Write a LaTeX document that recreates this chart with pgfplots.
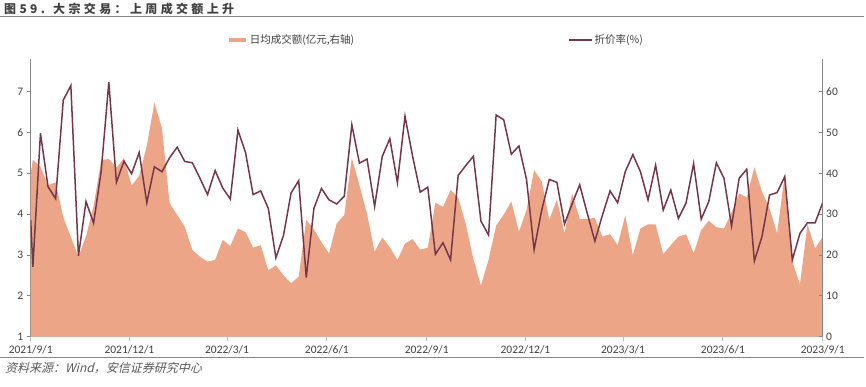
\documentclass[border=0pt]{standalone}
\usepackage{pgfplots}
\pgfplotsset{compat=1.18}
\usepackage{pgfplotstable}
\usepackage{fontspec}
\setmainfont{Carlito}
\newfontfamily\cjk{Noto Sans CJK SC}
\newfontfamily\cjktitle{Noto Sans CJK SC}[LetterSpace=28]
\newfontfamily\cjkit{Noto Sans CJK SC}[FakeSlant=0.25]
\definecolor{areac}{RGB}{236,166,135}
\definecolor{linec}{RGB}{117,54,74}
\definecolor{axgray}{RGB}{134,134,134}
\definecolor{xgray}{RGB}{191,191,191}
\definecolor{txt}{RGB}{64,64,64}

\pgfplotstableread{
x a r
0 5.00 28.6
2 5.33 17.1
9 5.16 49.8
16 4.71 36.7
23 4.78 33.8
30 3.92 57.9
37 3.44 61.5
44 2.96 19.8
51 3.46 33.1
58 4.20 27.8
65 5.33 40.6
72 5.35 62.3
79 5.14 37.8
86 5.37 43.0
93 4.70 39.9
100 4.94 45.1
107 5.67 32.8
114 6.73 41.6
121 6.10 40.4
128 4.27 43.8
135 3.98 46.4
142 3.69 42.9
149 3.12 42.6
156 2.96 38.8
163 2.84 34.8
170 2.88 40.7
177 3.37 36.4
184 3.22 33.7
191 3.65 50.6
198 3.56 45.1
205 3.18 34.8
212 3.24 35.7
219 2.62 31.4
226 2.75 19.3
233 2.50 24.8
240 2.31 35.2
247 2.47 38.2
254 3.86 14.5
261 3.63 31.4
268 3.31 36.3
275 3.04 33.5
282 3.77 32.5
289 3.98 34.4
296 5.38 51.9
303 4.71 42.5
310 4.00 43.5
317 3.08 31.9
324 3.43 44.1
331 3.19 48.5
338 2.88 37.7
345 3.28 54.0
352 3.39 44.2
359 3.13 35.4
366 3.18 36.6
373 4.28 20.2
380 4.18 23.0
387 4.59 18.8
394 4.41 39.5
401 3.76 41.9
408 2.90 44.2
415 2.25 28.3
422 2.88 24.9
429 3.72 54.3
436 3.99 53.1
443 4.31 44.7
450 3.57 46.7
457 4.10 38.5
464 5.08 21.3
471 4.80 31.0
478 3.86 38.5
485 4.36 37.8
492 3.53 27.6
499 4.51 32.5
506 3.88 37.2
513 3.88 30.2
520 3.91 23.4
527 3.45 29.8
534 3.51 35.7
541 3.24 32.8
548 3.97 40.4
555 3.00 44.6
562 3.65 40.4
569 3.75 33.5
576 3.75 42.0
583 3.02 31.0
590 3.24 35.9
597 3.45 29.0
604 3.51 32.7
611 3.04 42.4
618 3.61 28.8
625 3.84 33.1
632 3.68 42.6
639 3.65 38.8
646 4.04 27.1
653 4.51 38.8
660 4.41 41.0
667 5.15 18.5
674 4.55 24.5
681 4.14 34.7
688 3.53 35.3
695 4.96 39.2
702 2.84 18.8
709 2.28 25.3
716 3.75 27.9
723 3.16 27.9
730 3.45 32.8
}\data

\begin{document}
\begin{tikzpicture}
\begin{axis}[
  name=ax1, scale only axis,
  width=792pt, height=277.7pt,
  xmin=0, xmax=730, ymin=1, ymax=7.80,
  axis y line*=left, axis x line*=bottom,
  axis line style={-},
  y axis line style={axgray, line width=0.8pt},
  x axis line style={xgray, line width=1.2pt},
  xtick={0,91,181,273,365,456,546,638,730},
  xticklabels={2021/9/1,2021/12/1,2022/3/1,2022/6/1,2022/9/1,2022/12/1,2023/3/1,2023/6/1,2023/9/1},
  ytick={1,2,3,4,5,6,7},
  tick align=outside, major tick length=4pt,
  xtick style={xgray, line width=0.8pt},
  ytick style={axgray, line width=0.8pt},
  /pgf/number format/assume math mode=true,
  tick label style={font=\fontsize{11.5}{12}\selectfont, text=txt},
  xticklabel style={yshift=-1.5pt},
]
\addplot[fill=areac, draw=none] table[x=x,y=a]{\data} \closedcycle;
\coordinate (O) at (rel axis cs:0,0);
\end{axis}

\begin{axis}[
  scale only axis,
  width=792pt, height=277.7pt,
  xmin=0, xmax=730, ymin=0, ymax=68.0,
  axis y line*=right, axis x line=none,
  axis line style={-},
  y axis line style={axgray, line width=0.8pt},
  ytick={0,10,20,30,40,50,60},
  tick align=inside, major tick length=4pt,
  ytick style={axgray, line width=0.8pt},
  /pgf/number format/assume math mode=true,
  tick label style={font=\fontsize{11.5}{12}\selectfont, text=txt},
  legend columns=2,
  legend style={at={(0.2435,1.068)}, anchor=west, draw=none, fill=none,
    font=\fontsize{10.5}{11}\selectfont\cjk, text=txt,
    /tikz/every even column/.append style={column sep=212pt}},
]
\addlegendimage{legend image code/.code={\draw[areac, line width=4pt] (0pt,0pt) -- (17pt,0pt);}}
\addlegendentry{日均成交额(亿元,右轴)}
\addplot[linec, line width=1.5pt, legend image code/.code={\draw[linec, line width=1.3pt] (0pt,0pt) -- (23pt,0pt);}] table[x=x,y=r]{\data};
\addlegendentry{折价率(\%)}
\end{axis}

\coordinate (B) at ([shift={(-30.7pt,-50.3pt)}]O);
\pgfresetboundingbox
\path[use as bounding box] (B) rectangle ([shift={(866pt,387pt)}]B);
\node[anchor=west, inner sep=0pt, text=txt] at ([shift={(4pt,378.5pt)}]B) {\fontsize{12}{12}\selectfont\cjktitle\bfseries 图59. 大宗交易：上周成交额上升};
\draw[axgray, line width=1pt] ([shift={(0pt,370pt)}]B) -- ([shift={(864pt,370pt)}]B);
\draw[axgray, line width=1pt] ([shift={(0pt,29.3pt)}]B) -- ([shift={(864pt,29.3pt)}]B);
\node[anchor=west, inner sep=0pt, text=black!65] at ([shift={(5pt,18.7pt)}]B) {\fontsize{12}{12}\selectfont\cjkit 资料来源：Wind，安信证券研究中心};
\end{tikzpicture}
\end{document}
